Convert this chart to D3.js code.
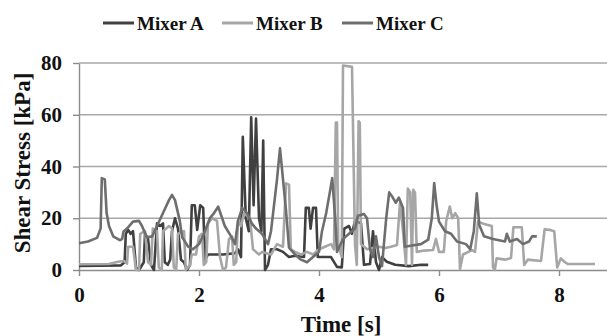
<!DOCTYPE html>
<html>
<head>
<meta charset="utf-8">
<script src="https://cdn.jsdelivr.net/npm/d3@7"></script>
<style>
    body { margin: 0; background: #fff; }
    svg { display: block; }
    svg text { font-family: "Liberation Serif", "Times New Roman", serif; font-weight: bold; fill: #111; }
</style>
</head>
<body>
<svg></svg>
<script>
"use strict"
// [tempo s, sforzo kPa]
const mixerA = [[0, 1.6], [0.7, 1.8], [0.76, 3], [0.78, 14], [0.82, 15.5], [0.86, 14], [0.9, 15], [0.95, 1], [1.0, 0], [1.08, 3], [1.1, 14], [1.15, 12], [1.2, 2], [1.25, 0], [1.3, 18], [1.35, 17], [1.4, 18], [1.43, 3], [1.48, 2], [1.52, 4], [1.55, 15], [1.6, 20], [1.65, 16], [1.7, 4], [1.75, 3], [1.8, 0], [1.85, 2], [1.88, 25], [1.93, 25], [1.97, 15.5], [2.02, 25], [2.07, 24], [2.1, 4], [2.15, 6], [2.4, 6], [2.6, 6.5], [2.65, 8], [2.7, 5], [2.73, 51.5], [2.78, 20], [2.83, 15], [2.87, 59], [2.91, 25], [2.95, 58.5], [3.0, 20], [3.04, 15], [3.07, 50], [3.1, 0], [3.15, 2], [3.2, 8], [3.3, 8], [3.4, 7], [3.5, 5], [3.6, 5.5], [3.75, 5], [3.78, 24], [3.83, 24], [3.86, 16], [3.9, 24], [3.95, 24], [3.98, 5], [4.1, 5], [4.2, 5], [4.3, 1.2], [4.38, 1], [4.42, 16], [4.5, 17], [4.55, 14], [4.6, 19], [4.7, 18], [4.75, 2], [4.85, 2.3], [4.9, 15], [4.95, 3], [5.0, 0], [5.05, 5], [5.13, 3.2], [5.27, 2], [5.5, 1.5], [5.7, 2], [5.82, 2]];
const mixerB = [[0, 2.2], [0.5, 2.3], [0.65, 3.2], [0.75, 3.5], [0.8, 2.5], [0.82, 9], [0.9, 9], [0.95, 0], [1.0, 0], [1.02, 14], [1.1, 15], [1.15, 3], [1.2, 2], [1.23, 16], [1.3, 15], [1.33, 1], [1.38, 0], [1.4, 15], [1.5, 17], [1.55, 16], [1.58, 1], [1.62, 0], [1.65, 14], [1.75, 15], [1.78, 0], [1.85, 2], [1.88, 6], [1.95, 6], [2.0, 13], [2.05, 14], [2.08, 2], [2.12, 3], [2.15, 18], [2.22, 20], [2.3, 19], [2.35, 5], [2.4, 0], [2.45, 1], [2.5, 12], [2.55, 13], [2.58, 2], [2.62, 3], [2.65, 19], [2.7, 17], [2.75, 22], [2.85, 20], [2.9, 8], [3.0, 6], [3.05, 7], [3.2, 6], [3.3, 10], [3.4, 9], [3.45, 33.5], [3.5, 33], [3.53, 8], [3.6, 7], [3.7, 6], [3.8, 7], [3.9, 6], [4.0, 8], [4.1, 9], [4.2, 10], [4.25, 8], [4.28, 57], [4.3, 57], [4.32, 10], [4.38, 5], [4.4, 79], [4.55, 78.5], [4.6, 10], [4.63, 2], [4.66, 57.5], [4.68, 57], [4.7, 10], [4.8, 8], [4.9, 8.5], [5.0, 9], [5.1, 8.5], [5.2, 9], [5.3, 9.7], [5.35, 26], [5.4, 15], [5.45, 2], [5.48, 31.5], [5.52, 30], [5.55, 2], [5.57, 31], [5.6, 30], [5.63, 7], [5.75, 7.5], [5.9, 7.7], [5.95, 12], [6.0, 7], [6.08, 7], [6.12, 19], [6.18, 24.5], [6.22, 20], [6.27, 22], [6.32, 20], [6.35, 0.4], [6.4, 6], [6.55, 7.7], [6.6, 7], [6.65, 18.7], [6.73, 18], [6.8, 17.5], [6.88, 17], [6.9, 1], [6.93, 0], [6.96, 4.5], [7.1, 4], [7.2, 4.6], [7.24, 16.5], [7.38, 16.5], [7.42, 2], [7.48, 4], [7.7, 3.5], [7.76, 15.7], [7.85, 15.5], [7.92, 15], [7.97, 1], [8.03, 4.5], [8.1, 3], [8.15, 2.3], [8.6, 2.3]];
const mixerC = [[0, 10.3], [0.15, 11], [0.3, 12.4], [0.36, 16], [0.38, 35.5], [0.43, 35], [0.46, 22], [0.5, 17], [0.57, 13], [0.68, 11.5], [0.72, 12], [0.74, 14.8], [0.8, 16], [0.9, 18.7], [1.0, 19], [1.05, 17], [1.13, 12.6], [1.22, 13], [1.3, 17], [1.4, 22], [1.5, 27], [1.55, 29], [1.6, 27], [1.68, 19], [1.72, 12.6], [1.82, 9], [1.9, 8], [2.0, 10], [2.1, 15], [2.18, 20], [2.25, 22], [2.32, 24.5], [2.43, 17], [2.55, 12.4], [2.6, 10], [2.65, 19], [2.72, 24], [2.8, 22], [2.88, 18], [2.95, 16], [3.05, 14], [3.15, 10], [3.2, 15], [3.25, 25], [3.3, 35], [3.35, 47], [3.4, 35], [3.45, 23], [3.5, 8.6], [3.6, 6], [3.7, 4], [3.8, 3], [3.9, 5], [4.0, 7], [4.05, 15], [4.12, 22], [4.18, 30], [4.22, 35.5], [4.27, 20], [4.3, 7], [4.4, 12], [4.5, 14], [4.6, 16], [4.65, 21], [4.75, 21.6], [4.8, 20], [4.85, 8], [4.9, 5], [4.95, 13], [5.0, 5], [5.05, 1.5], [5.12, 20], [5.17, 30], [5.23, 28], [5.28, 26], [5.33, 28], [5.4, 24], [5.43, 9], [5.55, 9.5], [5.7, 10], [5.82, 11.7], [5.88, 20], [5.92, 33.6], [5.96, 25], [6.0, 18.7], [6.1, 15], [6.2, 14], [6.3, 11], [6.45, 10], [6.52, 8], [6.58, 15], [6.63, 29.6], [6.67, 17.5], [6.75, 13], [6.9, 12], [7.0, 11.5], [7.1, 11], [7.13, 14], [7.18, 11], [7.3, 12], [7.4, 10], [7.5, 11], [7.55, 13], [7.63, 13]];

const nomiSerie = ["Mixer A", "Mixer B", "Mixer C"];
const coloriSerie = ["#404040", "#a6a6a6", "#6e6e6e"];
const ticksX = [0, 2, 4, 6, 8];
const ticksY = [0, 20, 40, 60, 80];

const grafico = { w: 607, h: 336 };
const margine = { sx: 79, dx: 619, su: 63, giu: 270 };

const svg = d3.select("svg")
    .attr("width", grafico.w)
    .attr("height", grafico.h);

const scalaX = d3.scaleLinear()
    .domain([0, 9])
    .range([margine.sx, margine.dx]);

const scalaY = d3.scaleLinear()
    .domain([0, 80])
    .range([margine.giu, margine.su]);

// griglia orizzontale
svg.append("g")
    .selectAll("line")
    .data(ticksY.filter(function (d) { return d > 0 }))
    .enter()
    .append("line")
    .attr("x1", margine.sx)
    .attr("x2", margine.dx)
    .attr("y1", function (d) { return scalaY(d) })
    .attr("y2", function (d) { return scalaY(d) })
    .attr("stroke", "#a8a8a8")
    .attr("stroke-width", 1.6);

const asseY = d3.axisLeft(scalaY)
    .tickValues(ticksY)
    .tickSize(6)
    .tickPadding(11)
    .tickSizeOuter(0);

const gY = svg.append("g")
    .attr("transform", `translate(${margine.sx},0)`)
    .call(asseY);

const asseX = d3.axisBottom(scalaX)
    .tickValues(ticksX)
    .tickSize(6)
    .tickPadding(11)
    .tickSizeOuter(0);

const gX = svg.append("g")
    .attr("transform", `translate(0,${margine.giu})`)
    .call(asseX);

[gX, gY].forEach(function (g) {
    g.attr("font-family", null).attr("font-size", null);
    g.select(".domain").attr("stroke", "#8c8c8c").attr("stroke-width", 1.4);
    g.selectAll(".tick line").attr("stroke", "#8c8c8c").attr("stroke-width", 1.4);
    g.selectAll(".tick text")
        .attr("fill", null)
        .style("font-size", "21px");
});

const linea = d3.line()
    .x(function (d) { return scalaX(d[0]) })
    .y(function (d) { return scalaY(d[1]) });

[mixerA, mixerB, mixerC].forEach(function (serie, i) {
    svg.append("path")
        .datum(serie)
        .attr("d", linea)
        .attr("fill", "none")
        .attr("stroke", coloriSerie[i])
        .attr("stroke-width", 2.6)
        .attr("stroke-linejoin", "round");
});

// titoli assi
svg.append("text")
    .attr("x", 341)
    .attr("y", 332)
    .attr("text-anchor", "middle")
    .style("font-size", "23px")
    .text("Time [s]");

svg.append("text")
    .attr("transform", "translate(30,163) rotate(-90)")
    .attr("text-anchor", "middle")
    .style("font-size", "23px")
    .text("Shear Stress [kPa]");

// legenda
const posLegenda = [103, 222, 342];
const legenda = svg.append("g")
    .selectAll("g")
    .data(nomiSerie)
    .enter()
    .append("g")
    .attr("transform", function (d, i) { return `translate(${posLegenda[i]},23)` });

legenda.append("line")
    .attr("x1", 0)
    .attr("x2", 31)
    .attr("stroke", function (d, i) { return coloriSerie[i] })
    .attr("stroke-width", 3);

legenda.append("text")
    .attr("x", 34)
    .attr("y", 7)
    .style("font-size", "19px")
    .text(function (d) { return d });
</script>
</body>
</html>
